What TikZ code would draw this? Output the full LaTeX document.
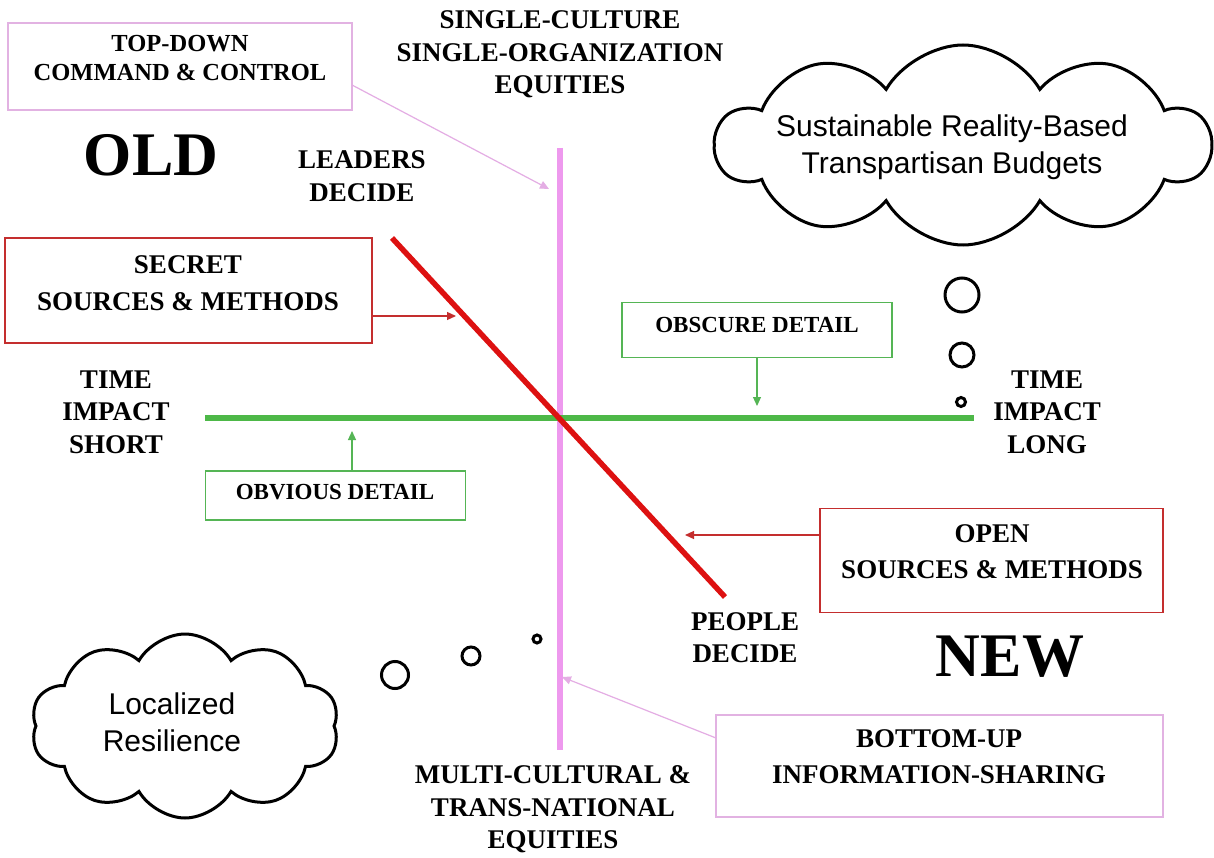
\documentclass[tikz,border=0pt]{standalone}
\usepackage{fontspec}
\setmainfont{Liberation Serif}
\newfontfamily\timesf{Liberation Serif}
\newfontfamily\arialf{Liberation Sans}
\usetikzlibrary{arrows.meta,shapes.symbols}
\definecolor{magl}{HTML}{EE99EE}
\definecolor{magb}{HTML}{E2B2E2}
\definecolor{redl}{HTML}{DD1111}
\definecolor{redb}{HTML}{C42E2E}
\definecolor{grnl}{HTML}{4DB848}
\definecolor{grnb}{HTML}{55B555}
\begin{document}
\begin{tikzpicture}[x=1pt,y=-1pt,
  lbl/.style={font=\timesf\bfseries\fontsize{27}{32.5}\selectfont, align=center, inner sep=0},
  boxtxt/.style={font=\timesf\bfseries\fontsize{27}{36.5}\selectfont, align=center, inner sep=0},
  tdtxt/.style={font=\timesf\bfseries\fontsize{24.5}{29}\selectfont, align=center, inner sep=0},
  smalltxt/.style={font=\timesf\bfseries\fontsize{23}{28}\selectfont, align=center, inner sep=0},
  bigtxt/.style={font=\timesf\bfseries\fontsize{62}{70}\selectfont, inner sep=0},
  cloudtxt/.style={font=\arialf\fontsize{30}{37}\selectfont, align=center, inner sep=0},
  frame/.style={draw, line width=1.3pt, inner sep=0, fill=white, rectangle},
  axis/.style={line width=5.5pt},
  ptr/.style={line width=1.2pt, -{Triangle[length=9pt,width=8pt]}},
  bubble/.style={circle, draw, line width=3pt, inner sep=0},
  thought/.style={cloud, draw, line width=3pt, cloud puffs=10, cloud puff arc=120, cloud ignores aspect, inner sep=0}
]
\useasboundingbox (0,0) rectangle (1214,858);
\fill[white] (0,0) rectangle (1214,858);

% axes
\coordinate (mtop) at (560,148);
\coordinate (mbot) at (560,750);
\coordinate (gl) at (205,418);
\coordinate (gr) at (974,418);
\coordinate (rtop) at (392,238);
\coordinate (rbot) at (725,597);
\draw[axis, magl] (mtop) -- (mbot);
\draw[axis, grnl] (gl) -- (gr);
\draw[axis, redl] (rtop) -- (rbot);

% boxes
\node[frame, draw=magb, minimum width=344pt, minimum height=87pt] (td) at (180,66.5) {};
\node[frame, draw=redb, minimum width=367pt, minimum height=105pt] (sec) at (188.5,290.5) {};
\node[frame, draw=grnb, minimum width=270pt, minimum height=55pt] (obs) at (757,330) {};
\node[frame, draw=grnb, minimum width=260pt, minimum height=49pt] (obv) at (335.5,495.5) {};
\node[frame, draw=redb, minimum width=343pt, minimum height=104pt] (opn) at (991.5,560.5) {};
\node[frame, draw=magb, minimum width=447pt, minimum height=102pt] (bup) at (939.5,766) {};

\node[tdtxt] (tdt) at (180,58.5) {TOP-DOWN\\COMMAND \& CONTROL};
\node[boxtxt] (sect) at (188,283) {SECRET\\SOURCES \& METHODS};
\node[smalltxt] (obst) at (757,325) {OBSCURE DETAIL};
\node[smalltxt] (obvt) at (335,492) {OBVIOUS DETAIL};
\node[boxtxt] (opnt) at (992,551.5) {OPEN\\SOURCES \& METHODS};
\node[boxtxt] (bupt) at (939,756.5) {BOTTOM-UP\\INFORMATION-SHARING};

% pointers
\coordinate (tdE) at (352,85);
\coordinate (tdT) at (549,189);
\coordinate (secE) at (372,316);
\coordinate (secT) at (456,316);
\coordinate (obsS) at (757,357.5);
\coordinate (obsT) at (757,406);
\coordinate (obvN) at (352,471);
\coordinate (obvT) at (352,431);
\coordinate (opnW) at (820,535);
\coordinate (opnT) at (685,535);
\coordinate (bupW) at (716,738);
\coordinate (bupT) at (562,677);
\draw[ptr, magb!80!magl] (tdE) -- (tdT);
\draw[ptr, redb] (secE) -- (secT);
\draw[ptr, grnb] (obsS) -- (obsT);
\draw[ptr, grnb] (obvN) -- (obvT);
\draw[ptr, redb] (opnW) -- (opnT);
\draw[ptr, magb!80!magl] (bupW) -- (bupT);

% free labels
\node[lbl] (single) at (560,54.5) {SINGLE-CULTURE\\SINGLE-ORGANIZATION\\EQUITIES};
\node[lbl] (leaders) at (362,176) {LEADERS\\DECIDE};
\node[lbl] (tshort) at (116,412) {TIME\\IMPACT\\SHORT};
\node[lbl] (tlong) at (1047,412) {TIME\\IMPACT\\LONG};
\node[lbl] (people) at (745,637.5) {PEOPLE\\DECIDE};
\node[lbl] (multi) at (553,809.5) {MULTI-CULTURAL \&\\TRANS-NATIONAL\\EQUITIES};
\node[bigtxt] (old) at (151,155) {OLD};
\node[bigtxt] (new) at (1010,657) {NEW};

% clouds
\node[thought, minimum width=494pt, minimum height=200pt] (c1) at (963,145) {};
\node[cloudtxt] (c1t) at (952,147) {Sustainable Reality-Based\\Transpartisan Budgets};
\node[thought, minimum width=308pt, minimum height=184pt] (c2) at (185,726) {};
\node[cloudtxt] (c2t) at (172,722.5) {Localized\\Resilience};

% bubbles
\node[bubble, minimum size=34pt] (b1) at (962,295) {};
\node[bubble, minimum size=24pt] (b2) at (962,355) {};
\node[bubble, minimum size=9pt] (b3) at (961,402) {};
\node[bubble, minimum size=27pt] (b4) at (395,675) {};
\node[bubble, minimum size=18pt] (b5) at (471,656) {};
\node[bubble, minimum size=8pt] (b6) at (537,639) {};
\end{tikzpicture}
\end{document}
